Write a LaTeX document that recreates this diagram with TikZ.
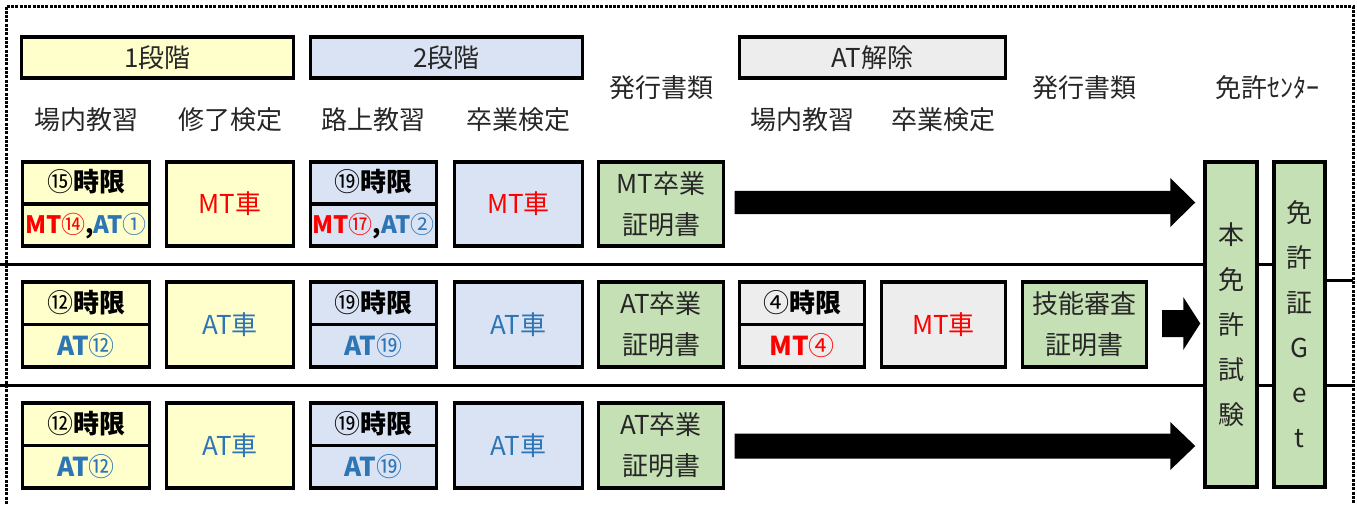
\documentclass[tikz,border=0pt]{standalone}
\usepackage{fontspec}
\setmainfont{Noto Sans CJK JP}
\usetikzlibrary{calc,backgrounds}
\definecolor{yel}{HTML}{FFFFCC}
\definecolor{blu}{HTML}{DAE3F3}
\definecolor{gry}{HTML}{EDEDED}
\definecolor{grn}{HTML}{C5E0B4}
\definecolor{tred}{HTML}{FF0000}
\definecolor{tblue}{HTML}{2E75B6}
\definecolor{tdark}{HTML}{262626}
\newcommand\cn[1]{{\mdseries #1}}
\tikzset{
  frame/.style={draw=black, line width=3.6pt, inner sep=0pt, outer sep=0pt},
  hdr/.style={frame, minimum height=41.5pt, text=tdark, font=\fontsize{26}{30}\selectfont},
  lbl/.style={inner sep=0pt, text=tdark, font=\fontsize{26}{30}\selectfont},
  cell/.style={frame, minimum width=#1, text=tdark, align=center, font=\fontsize{26}{41}\selectfont},
  rowa/.style={minimum height=84.5pt},
  rowb/.style={minimum height=85.5pt},
  divider/.style={draw=black, line width=3.6pt},
  boldtxt/.style={inner sep=0pt, font=\bfseries\fontsize{26}{28}\selectfont},
  boldsub/.style={inner sep=0pt, font=\bfseries\fontsize{24}{28}\selectfont},
  tall/.style={frame, fill=grn, minimum width=#1, minimum height=325.5pt, text=tdark, align=center, font=\fontsize{26}{45}\selectfont},
  sepline/.style={draw=black, line width=3pt},
  border/.style={draw=black, line width=3pt, dash pattern=on 3pt off 1.3pt},
}
\newcommand\fatarrow[5]{% start, end, half shaft, head length, half head
  \fill[black] ($(#1)+(0,-#3)$) -- ($(#2)+(-#4,-#3)$) -- ($(#2)+(-#4,-#5)$) -- (#2)
    -- ($(#2)+(-#4,#5)$) -- ($(#2)+(-#4,#3)$) -- ($(#1)+(0,#3)$) -- cycle;}
\begin{document}
\begin{tikzpicture}[x=1pt,y=-1pt]
\useasboundingbox (0,0) rectangle (1357,504);
% outer dashed frame
\coordinate (bl) at (6,504);
\coordinate (tl) at (6,6);
\coordinate (tr) at (1353,6);
\coordinate (br) at (1353,504);
\draw[border] (bl) -- (tl) -- (tr) -- (br);

% stage headers
\node[hdr, fill=yel, minimum width=272pt] (h1) at (157.5,57.5) {1段階};
\node[hdr, fill=blu, minimum width=272pt] (h2) at (446.5,57.5) {2段階};
\node[hdr, fill=gry, minimum width=266pt] (h3) at (872.5,57.5) {AT解除};

% column labels
\node[lbl] (l1) at (86,120) {場内教習};
\node[lbl] (l2) at (230,120) {修了検定};
\node[lbl] (l3) at (373.5,120) {路上教習};
\node[lbl] (l4) at (518.5,120) {卒業検定};
\node[lbl] (l5) at (661,88) {発行書類};
\node[lbl] (l6) at (802,120) {場内教習};
\node[lbl] (l7) at (943.5,120) {卒業検定};
\node[lbl] (l8) at (1084.5,88) {発行書類};
\node[lbl] (l9) at (1267,88) {免許ｾﾝﾀｰ};

% ---------- row 1 ----------
\node[cell=127pt, rowa, fill=yel] (r1c1) at (86,204) {};
\draw[divider] (r1c1.west) -- (r1c1.east);
\node[boldtxt] (r1c1a) at ([yshift=22pt]r1c1.center) {\cn{⑮}時限};
\node[boldsub] (r1c1b) at ([yshift=-22pt]r1c1.center) {\textcolor{tred}{MT\cn{⑭}},\textcolor{tblue}{AT\cn{①}}};
\node[cell=127pt, rowa, fill=yel, text=tred] (r1c2) at (230,204) {MT車};
\node[cell=126pt, rowa, fill=blu] (r1c3) at (373.5,204) {};
\draw[divider] (r1c3.west) -- (r1c3.east);
\node[boldtxt] (r1c3a) at ([yshift=22pt]r1c3.center) {\cn{⑲}時限};
\node[boldsub] (r1c3b) at ([yshift=-22pt]r1c3.center) {\textcolor{tred}{MT\cn{⑰}},\textcolor{tblue}{AT\cn{②}}};
\node[cell=128pt, rowa, fill=blu, text=tred] (r1c4) at (518.5,204) {MT車};
\node[cell=125pt, rowa, fill=grn] (r1c5) at (661,204) {MT卒業\\証明書};

% ---------- row 2 ----------
\node[cell=127pt, rowb, fill=yel] (r2c1) at (86,324.5) {};
\draw[divider] (r2c1.west) -- (r2c1.east);
\node[boldtxt] (r2c1a) at ([yshift=21.5pt]r2c1.center) {\cn{⑫}時限};
\node[boldtxt, text=tblue] (r2c1b) at ([yshift=-21.5pt]r2c1.center) {AT\cn{⑫}};
\node[cell=127pt, rowb, fill=yel, text=tblue] (r2c2) at (230,324.5) {AT車};
\node[cell=126pt, rowb, fill=blu] (r2c3) at (373.5,324.5) {};
\draw[divider] (r2c3.west) -- (r2c3.east);
\node[boldtxt] (r2c3a) at ([yshift=21.5pt]r2c3.center) {\cn{⑲}時限};
\node[boldtxt, text=tblue] (r2c3b) at ([yshift=-21.5pt]r2c3.center) {AT\cn{⑲}};
\node[cell=128pt, rowb, fill=blu, text=tblue] (r2c4) at (518.5,324.5) {AT車};
\node[cell=125pt, rowb, fill=grn] (r2c5) at (661,324.5) {AT卒業\\証明書};
\node[cell=125pt, rowb, fill=gry] (r2c6) at (802,324.5) {};
\draw[divider] (r2c6.west) -- (r2c6.east);
\node[boldtxt] (r2c6a) at ([yshift=21.5pt]r2c6.center) {\cn{④}時限};
\node[boldtxt, text=tred] (r2c6b) at ([yshift=-21.5pt]r2c6.center) {MT\cn{④}};
\node[cell=124pt, rowb, fill=gry, text=tred] (r2c7) at (943.5,324.5) {MT車};
\node[cell=124pt, rowb, fill=grn] (r2c8) at (1084.5,324.5) {技能審査\\証明書};

% ---------- row 3 ----------
\node[cell=127pt, rowb, fill=yel] (r3c1) at (86,445.5) {};
\draw[divider] (r3c1.west) -- (r3c1.east);
\node[boldtxt] (r3c1a) at ([yshift=21.5pt]r3c1.center) {\cn{⑫}時限};
\node[boldtxt, text=tblue] (r3c1b) at ([yshift=-21.5pt]r3c1.center) {AT\cn{⑫}};
\node[cell=127pt, rowb, fill=yel, text=tblue] (r3c2) at (230,445.5) {AT車};
\node[cell=126pt, rowb, fill=blu] (r3c3) at (373.5,445.5) {};
\draw[divider] (r3c3.west) -- (r3c3.east);
\node[boldtxt] (r3c3a) at ([yshift=21.5pt]r3c3.center) {\cn{⑲}時限};
\node[boldtxt, text=tblue] (r3c3b) at ([yshift=-21.5pt]r3c3.center) {AT\cn{⑲}};
\node[cell=128pt, rowb, fill=blu, text=tblue] (r3c4) at (518.5,445.5) {AT車};
\node[cell=125pt, rowb, fill=grn] (r3c5) at (661,445.5) {AT卒業\\証明書};

% ---------- licence centre ----------
\node[tall=52.5pt] (t1) at (1231,324.5) {本\\免\\許\\試\\験};
\node[tall=51.5pt] (t2) at (1299.5,324.5) {免\\許\\証\\G\\e\\t};

% ---------- arrows ----------
\coordinate (a1s) at ([xshift=11pt]r1c5.east |- 0,202.5);
\coordinate (a1e) at ([xshift=-9.5pt]t1.west |- a1s);
\fatarrow{a1s}{a1e}{11.7}{25}{24.5}
\coordinate (a2s) at ([xshift=15.5pt]r2c8.east |- 0,323.5);
\coordinate (a2e) at ([xshift=-4.5pt]t1.west |- a2s);
\fatarrow{a2s}{a2e}{13.5}{17}{26.5}
\coordinate (a3s) at ([xshift=11pt]r3c5.east |- 0,446);
\coordinate (a3e) at ([xshift=-9.5pt]t1.west |- a3s);
\fatarrow{a3s}{a3e}{12.5}{25}{24}

% ---------- row separators ----------
\begin{scope}[on background layer]
\coordinate (s1a) at (0,264);
\coordinate (s1b) at (t2.center |- s1a);
\coordinate (s1c) at (t2.east |- 0,280.5);
\coordinate (s1d) at (tr |- s1c);
\coordinate (s2a) at (0,385);
\coordinate (s2b) at (tr |- s2a);
\draw[sepline] (s1a) -- (s1b);
\draw[sepline] (s1c) -- (s1d);
\draw[sepline] (s2a) -- (s2b);
\end{scope}
\end{tikzpicture}
\end{document}
